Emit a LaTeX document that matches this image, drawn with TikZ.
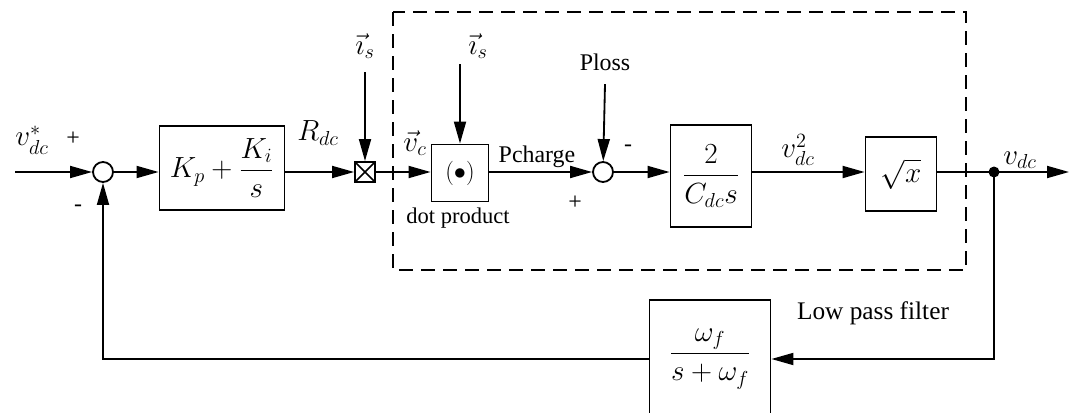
\documentclass[tikz,border=0pt]{standalone}
\usepackage{amsmath}
\usepackage{fontspec}
\setmainfont{Liberation Serif}
\usetikzlibrary{arrows.meta}

\begin{document}
\begin{tikzpicture}[
  x=0.025cm, y=-0.025cm,
  >={Triangle[length=5.5mm,width=3mm]},
  wire/.style={->,line width=1.3pt},
  block/.style={draw,line width=1.3pt,inner sep=2pt,
    font=\fontsize{20}{24}\selectfont},
  sum/.style={circle,draw,line width=1.3pt,minimum size=5mm,inner sep=0pt},
  lbl/.style={font=\fontsize{21}{25}\selectfont,inner sep=1pt},
  txt/.style={font=\fontsize{17}{20}\selectfont,inner sep=1pt}
]

\useasboundingbox (0,0) rectangle (1069,413);

% dashed frame round the dc-link model
\draw[line width=1.3pt,dash pattern=on 3.5mm off 2mm]
  (393,12) rectangle (966,270);

% blocks on the main line
\node[sum] (sum1) at (103,172) {};
\node[block,minimum width=3.125cm,minimum height=2.1cm] (pi) at (222,168)
  {$K_p+\dfrac{K_i}{s}$};
\node[draw,line width=1.3pt,minimum size=5mm,inner sep=0pt,
  path picture={\draw[line width=1.1pt]
    (path picture bounding box.north west) -- (path picture bounding box.south east)
    (path picture bounding box.north east) -- (path picture bounding box.south west);}]
  (mult) at (365,172) {};
\node[block,minimum width=1.425cm,minimum height=1.425cm] (dot) at (460,173)
  {\fontsize{17}{20}\selectfont$(\bullet)$};
\node[sum] (sum2) at (603,172) {};
\node[block,minimum width=2.025cm,minimum height=2.55cm] (cap) at (711,176)
  {$\dfrac{2}{C_{dc}s}$};
\node[block,minimum width=1.775cm,minimum height=1.85cm] (root) at (901,174)
  {$\sqrt{x}$};
\fill (994,172) circle (5.5) coordinate (tap);
\node[block,minimum width=3.025cm,minimum height=2.95cm] (lpf) at (710,359)
  {$\dfrac{\omega_f}{s+\omega_f}$};

% free ends
\coordinate (in) at (15,172);
\coordinate (out) at (1069,172);

% labels
\node[lbl] (vref) at (32,140) {$v_{dc}^{*}$};
\node[txt] (p1) at (73,139) {+};
\node[txt] (m1) at (78,208) {-};
\node[lbl] (rdc) at (318,133) {$R_{dc}$};
\node[lbl] (isa) at (365,46) {$\vec{\imath}_s$};
\node[lbl] (isb) at (478,46) {$\vec{\imath}_s$};
\node[lbl] (vc) at (415,143) {$\vec{v}_c$};
\node[txt,font=\fontsize{16}{19}\selectfont] (dp) at (458,218) {dot product};
\node[txt] (pch) at (537,157) {Pcharge};
\node[txt] (plo) at (605,62) {Ploss};
\node[txt] (m2) at (628,148) {-};
\node[txt] (p2) at (575,203) {+};
\node[lbl] (vsq) at (798,150) {$v_{dc}^2$};
\node[lbl] (vout) at (1020,160) {$v_{dc}$};
\node[txt,font=\fontsize{18}{21}\selectfont] (lpt) at (873,313) {Low pass filter};

% forward path
\draw[wire] (in) -- (sum1);
\draw[wire] (sum1) -- (sum1 -| pi.west);
\draw[wire] (pi.east |- mult) -- (mult);
\draw[wire] ([yshift=-3mm]isa.south) -- (mult);
\draw[wire] (mult) -- (mult -| dot.west);
\draw[wire] ([yshift=-1mm]isb.south -| dot.north) -- (dot.north);
\draw[wire] (dot.east |- sum2) -- (sum2);
\draw[wire] ([yshift=-3mm]plo.south) -- (sum2);
\draw[wire] (sum2) -- (sum2 -| cap.west);
\draw[wire] (cap.east |- tap) -- (tap -| root.west);
\draw[wire] (root.east |- tap) -- (out);

% feedback path
\draw[wire] (tap) |- (lpf);
\draw[wire] (lpf) -| (sum1);

\end{tikzpicture}
\end{document}
